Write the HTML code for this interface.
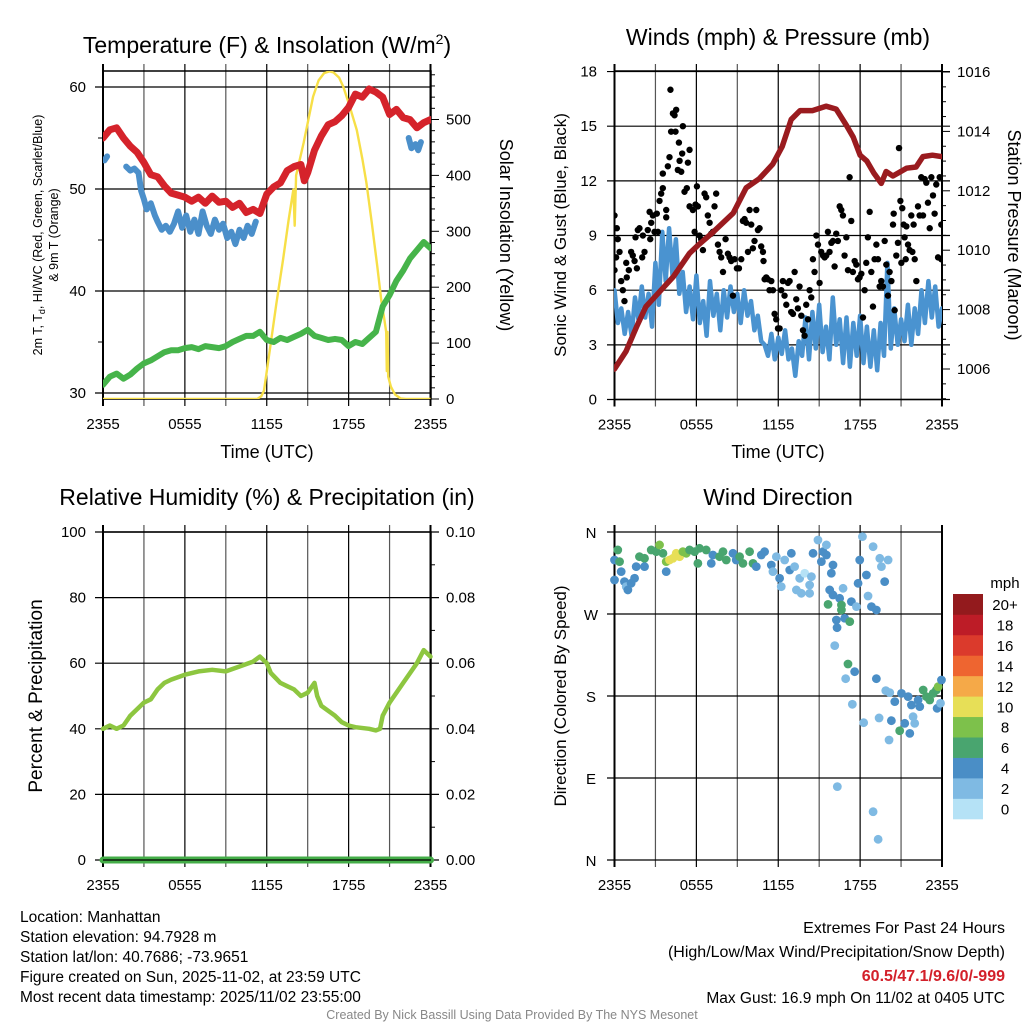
<!DOCTYPE html>
<html><head><meta charset="utf-8">
<style>
html,body{margin:0;padding:0;background:#fff;}
svg{display:block;font-family:"Liberation Sans",Arial,sans-serif;}
.tk{font-size:15px;fill:#000;}
.ttl{font-size:23px;fill:#000;}
.lab{font-size:18px;fill:#000;}
.ft{font-size:15.5px;fill:#000;}
</style></head>
<body>
<svg id="fig" width="1024" height="1024" viewBox="0 0 1024 1024">
<defs>
<clipPath id="c1"><rect x="103" y="71" width="328" height="328"/></clipPath>
<clipPath id="c2"><rect x="614" y="71" width="328" height="329"/></clipPath>
<clipPath id="c3"><rect x="96" y="525" width="344" height="345"/></clipPath>
<clipPath id="c4"><rect x="608" y="525" width="342" height="342"/></clipPath>
</defs>
<g id="grid"></g>
<g id="marks"></g>
<g id="axes"></g>

<text class="ttl" x="267" y="53" text-anchor="middle">Temperature (F) &amp; Insolation (W/m<tspan dy="-9" font-size="14">2</tspan><tspan dy="9">)</tspan></text>
<text class="ttl" x="778" y="45" text-anchor="middle">Winds (mph) &amp; Pressure (mb)</text>
<text class="ttl" x="267" y="505" text-anchor="middle">Relative Humidity (%) &amp; Precipitation (in)</text>
<text class="ttl" x="778" y="505" text-anchor="middle">Wind Direction</text>

<text x="0" y="0" font-size="12.5" text-anchor="middle" transform="translate(42,235) rotate(-90)">2m T, T<tspan dy="3" font-size="9">d</tspan><tspan dy="-3">, HI/WC (Red, Green, Scarlet/Blue)</tspan></text>
<text x="0" y="0" font-size="12.5" text-anchor="middle" transform="translate(58,235) rotate(-90)">&amp; 9m T (Orange)</text>
<text class="lab" x="0" y="0" text-anchor="middle" transform="translate(500,235) rotate(90)">Solar Insolation (Yellow)</text>
<text class="lab" x="267" y="458" text-anchor="middle">Time (UTC)</text>
<text class="lab" x="778" y="458" text-anchor="middle">Time (UTC)</text>
<text x="0" y="0" font-size="17" text-anchor="middle" transform="translate(566,235) rotate(-90)">Sonic Wind &amp; Gust (Blue, Black)</text>
<text class="lab" x="0" y="0" text-anchor="middle" transform="translate(1008,235) rotate(90)">Station Pressure (Maroon)</text>
<text x="0" y="0" font-size="19" text-anchor="middle" transform="translate(42,696) rotate(-90)">Percent &amp; Precipitation</text>
<text x="0" y="0" font-size="17" text-anchor="middle" transform="translate(566,696) rotate(-90)">Direction (Colored By Speed)</text>

<text class="tk" x="1005" y="588" text-anchor="middle">mph</text>

<g>
<text class="ft" x="20" y="922">Location: Manhattan</text>
<text class="ft" x="20" y="942">Station elevation: 94.7928 m</text>
<text class="ft" x="20" y="962">Station lat/lon: 40.7686; -73.9651</text>
<text class="ft" x="20" y="982">Figure created on Sun, 2025-11-02, at 23:59 UTC</text>
<text class="ft" x="20" y="1002">Most recent data timestamp: 2025/11/02 23:55:00</text>
</g>
<g>
<text x="1005" y="933" font-size="16" text-anchor="end">Extremes For Past 24 Hours</text>
<text x="1005" y="957" font-size="16" text-anchor="end">(High/Low/Max Wind/Precipitation/Snow Depth)</text>
<text x="1005" y="981" font-size="16" font-weight="bold" fill="#d3202a" text-anchor="end">60.5/47.1/9.6/0/-999</text>
<text x="1005" y="1003" font-size="15.5" text-anchor="end">Max Gust: 16.9 mph On 11/02 at 0405 UTC</text>
</g>
<text x="512" y="1019" font-size="12.5" fill="#888" text-anchor="middle">Created By Nick Bassill Using Data Provided By The NYS Mesonet</text>
</svg>

<script>
// ---------- DATA ----------
const timeTickLabels = ["2355","0555","1155","1755","2355"];
const tempTicks = [30,40,50,60];
const solarTicks = [0,100,200,300,400,500];
const windTicks = [0,3,6,9,12,15,18];
const pressTicks = [1006,1008,1010,1012,1014,1016];
const rhTicks = [0,20,40,60,80,100];
const precipTickLabels = ["0.00","0.02","0.04","0.06","0.08","0.10"];
const dirTickLabels = ["N","E","S","W","N"];
const speedBins = ["0","2","4","6","8","10","12","14","16","18","20+"];

const tHours = [0,0.5,1,1.5,2,2.5,3,3.5,4,4.5,5,5.5,6,6.5,7,7.5,8,8.5,9,9.5,10,10.5,11,11.5,12,12.5,13,13.5,14,14.5,14.75,15,15.5,16,16.5,17,17.5,18,18.5,19,19.5,20,20.5,21,21.5,22,22.5,23,23.5,24];
const tVals = [55.0,55.8,56.0,55.0,54.2,53.6,52.6,51.4,51.2,50.3,49.6,49.4,49.2,48.8,49.2,48.6,49.3,48.7,48.8,48.2,48.6,47.7,48.0,47.6,49.5,50.2,50.6,51.8,52.2,52.4,50.8,51.6,53.8,55.2,56.3,56.6,57.2,58.0,59.3,59.0,59.8,59.5,59.0,57.3,57.8,57.0,56.8,56.0,56.5,56.8];
const hiHours = [0.1,0.3,null,1.7,2.0,2.3,2.6,2.8,3.0,3.2,3.5,3.8,4.0,4.3,4.6,4.9,5.2,5.5,5.8,6.1,6.4,6.7,7.0,7.3,7.6,7.9,8.2,8.5,8.8,9.1,9.4,9.7,10.0,10.3,10.6,10.9,11.2,null,14.7,null,16.7,null,22.4,22.6,22.9,23.1,23.3,null,23.9];
const hiVals = [52.8,53.2,null,52.2,51.8,52.0,51.6,49.8,49.0,48.0,48.6,47.4,46.8,46.0,46.4,45.8,46.6,47.8,46.2,47.4,45.8,47.0,45.6,47.8,46.4,45.6,47.0,46.0,46.6,45.2,45.8,44.6,46.0,45.2,46.4,45.6,46.8,null,49.5,null,55.0,null,55.0,54.0,54.4,53.8,54.6,null,55.6];
const tdHours = [0,0.5,1,1.5,2,2.5,3,3.5,4,4.5,5,5.5,6,6.5,7,7.5,8,8.5,9,9.5,10,10.5,11,11.5,12,12.5,13,13.5,14,14.5,15,15.5,16,16.5,17,17.5,18,18.5,19,19.5,20,20.5,21,21.5,22,22.5,23,23.5,24];
const tdVals = [30.8,31.6,31.9,31.4,31.8,32.4,32.9,33.2,33.6,34.0,34.2,34.2,34.4,34.5,34.3,34.6,34.5,34.4,34.6,35.0,35.3,35.6,35.6,36.0,35.2,35.0,35.4,35.2,35.5,35.8,36.2,35.6,35.4,35.2,35.3,35.2,34.6,35.0,34.8,35.4,36.0,38.5,39.6,41.0,42.0,43.2,44.0,44.8,44.2];
const solHours = [0,11.3,11.6,11.8,12.0,12.3,12.7,13.2,13.6,13.95,14.05,14.15,14.7,15.4,15.8,16.2,16.6,16.9,17.3,17.6,18.0,18.6,19.0,19.3,19.7,20.1,20.4,20.6,20.75,20.8,20.85,20.9,21.1,21.4,21.8,22.2,24];
const solVals = [0,0,5,15,50,100,170,250,320,375,310,400,458,541,570,583,586,584,575,559,530,481,430,387,315,237,175,145,120,50,120,40,22,8,1,0,0];

const windVals = [6.0,4.2,5.0,3.6,4.8,3.5,5.6,4.4,6.2,4.5,5.8,4.0,7.5,5.2,9.2,6.5,9.4,6.8,8.8,5.8,7.0,4.8,6.2,4.4,6.8,4.2,5.4,3.5,6.5,4.6,5.8,3.8,6.0,4.5,6.2,4.8,5.8,4.2,6.0,4.6,5.4,3.8,4.6,3.2,3.0,2.4,3.6,2.2,3.4,2.5,3.8,2.2,2.8,1.3,3.2,2.4,4.5,2.2,4.8,2.8,5.2,2.6,4.0,2.2,5.6,3.0,4.4,2.0,4.5,1.8,4.2,2.4,4.6,2.0,4.0,1.8,3.8,1.6,4.2,2.4,7.5,2.8,5.0,3.0,4.4,3.2,5.2,3.0,5.0,3.6,6.0,4.2,6.5,4.5,6.2,4.0,5.0];
const windStepHours = 0.25;
const gustHours = [0,0,0.17,0.24,0.12,0.37,0.49,0.61,0.73,0.86,0.9,1.05,1.22,1.34,1.47,1.54,1.71,1.83,1.64,2.03,2.2,2.08,2.44,2.57,2.69,2.81,2.62,2.93,3.1,3.18,3.3,3.42,3.54,3.54,3.79,3.79,3.91,4.03,4.15,4.28,4.4,4.52,4.47,4.1,4.64,4.77,4.72,4.89,4.96,5.01,5.13,5.3,5.38,5.5,5.5,5.74,5.87,5.94,6.04,6.11,6.23,6.35,6.48,6.6,6.72,6.84,6.97,7.09,7.21,7.33,7.45,7.58,7.7,7.82,7.95,8.14,8.31,8.43,8.55,8.68,8.8,8.97,9.12,9.29,9.41,9.53,9.65,9.78,9.9,10.02,10.14,10.26,10.39,10.51,10.63,10.75,10.88,10.92,11.0,11.12,11.24,11.36,11.49,11.61,11.73,11.85,11.98,12.1,12.22,12.34,12.46,12.59,12.71,12.83,12.95,13.08,13.2,13.32,13.44,13.56,13.69,13.81,13.93,14.05,14.18,14.3,14.42,14.54,14.66,14.79,14.91,15.03,15.15,15.28,15.4,15.52,15.64,15.76,15.89,16.01,16.13,16.25,16.37,16.5,16.62,16.74,16.86,16.99,17.11,17.23,17.35,17.47,17.6,17.72,17.84,17.96,18.09,18.21,18.33,18.45,18.57,18.7,18.82,18.94,19.06,19.19,19.31,19.43,19.55,19.67,19.8,19.92,20.04,20.16,20.29,20.41,20.46,20.53,20.65,20.77,20.85,20.95,21.02,21.09,21.19,21.26,21.34,21.39,21.51,21.63,21.75,21.83,21.92,22.0,22.12,22.24,22.36,22.48,22.61,22.73,22.85,22.97,23.1,23.22,23.34,23.46,23.58,23.71,23.83,23.95,23.95];
const gustVals = [10.1,7.1,9.4,8.8,7.8,8.1,6.5,6.0,5.4,7.5,6.7,7.1,8.1,7.9,7.6,8.9,9.3,9.4,7.2,7.8,8.1,9.0,9.3,10.3,9.7,10.1,8.8,9.2,10.2,9.2,10.9,11.3,11.6,12.4,10.4,10.0,12.8,13.3,14.7,15.7,15.6,15.9,14.7,17.0,12.6,13.1,14.1,12.5,13.5,15.0,11.4,11.6,13.0,13.7,10.6,10.4,9.2,10.7,11.7,10.6,9.0,8.8,8.2,11.3,11.1,10.1,9.7,9.1,9.2,10.6,11.3,8.5,8.1,7.8,7.0,8.8,8.0,7.8,7.6,5.7,7.7,7.2,7.2,7.7,9.8,9.9,9.7,8.1,10.4,9.6,8.3,8.7,10.4,9.3,9.4,8.4,8.1,7.6,6.6,6.7,6.6,6.0,6.5,6.0,4.7,4.4,3.9,3.9,6.0,6.5,5.7,5.2,6.4,6.5,4.8,4.7,7.0,5.5,5.0,6.2,4.6,3.8,3.5,5.2,4.4,6.0,5.6,7.7,7.0,9.0,8.5,6.4,8.1,7.9,7.8,7.9,9.2,8.1,8.6,8.7,7.3,9.1,8.7,10.6,10.4,10.1,7.9,8.9,7.1,12.2,9.8,7.0,7.6,7.4,6.6,6.7,6.9,4.5,6.0,7.5,8.9,10.3,7.0,5.1,7.7,8.5,7.7,6.2,6.5,6.2,8.7,7.4,5.7,7.0,6.5,9.6,10.2,4.9,7.9,8.6,13.8,10.9,7.5,10.5,9.6,8.9,7.7,9.5,8.5,8.2,10.1,8.1,9.6,7.7,6.5,10.6,10.1,12.2,10.1,12.1,11.9,10.8,9.4,12.2,11.2,10.2,11.8,7.8,12.2,9.6,7.7];
const pressHours = [0,0.85,1.6,2.3,3.3,4.3,5.5,6.2,7.2,8.7,9.65,10.6,11.6,12.3,12.95,13.6,14.5,15.5,16.25,17.0,17.5,18.0,18.5,19.0,19.55,19.9,20.4,21.4,22.1,22.6,23.3,24];
const pressVals = [1006.0,1006.6,1007.4,1008.1,1008.6,1009.1,1009.9,1010.2,1010.6,1011.25,1012.1,1012.4,1012.9,1013.5,1014.4,1014.7,1014.7,1014.85,1014.75,1014.2,1013.8,1013.2,1013.0,1012.6,1012.25,1012.65,1012.5,1012.76,1012.8,1013.15,1013.2,1013.15];

const rhHours = [0,0.5,1,1.5,2,3,3.5,4,4.5,5,6,7,8,9,10,11,11.5,12,12.3,13,13.5,14,14.5,15,15.5,15.7,16,17,17.5,18,18.5,19.5,20,20.3,20.5,21,22,23,23.5,24];
const rhVals = [40,41,40,41,44,48,49,52,54,55,56.5,57.5,58,57.5,59,60.5,62,60,57,54,53,52,50,51,54,50,47,44,42,41,40.5,40,39.5,40,44,48,54,60,64,62];
const precipHours = [0,24];
const precipVals = [0,0];

const dirHours = [0,0,0.24,0.37,0.49,0.73,0.86,0.98,1.22,1.47,1.59,1.83,2.2,2.2,2.69,3.06,3.3,3.55,3.79,3.79,4.03,4.28,4.52,4.77,5.01,5.26,5.5,5.87,6.11,6.23,6.72,7.09,7.21,7.7,7.95,8.19,8.68,8.92,9.17,9.41,9.9,10.15,10.39,10.76,11,11.49,11.61,11.86,12.1,12.22,12.47,12.84,12.96,13.2,13.33,13.57,13.69,13.94,14.3,14.3,14.43,14.55,14.91,15.16,15.28,15.53,15.53,15.89,16.01,15.77,16.01,15.65,16.5,16.75,16.63,16.63,16.26,16.31,16.87,17.24,17.36,17.73,17.85,17.97,18.17,18.46,18.58,18.83,18.95,19.19,19.44,19.56,19.8,20.05,16.14,17.11,17.6,16.94,19.19,17.43,18.26,19.39,19.88,20.17,20.54,20.29,20.9,21.03,21.27,21.64,21.52,21.76,21.88,22,22.25,22.37,22.62,22.86,23.1,23.35,23.59,23.72,23.96,23.64,23.89,20.12,16.33,18.95,19.32];
const dirVals = [329.3,307.3,340.3,327.5,316.5,305.5,300,296.4,303.7,309.2,322,332.9,331.1,322,340.3,338.4,345.8,336.6,327.5,316.5,329.3,331.1,336.6,332.9,338.4,336.6,340.3,338.4,325.6,342.1,340.3,325.6,334.8,332.9,338.4,329.3,336.6,329.3,332.9,325.6,338.4,325.6,322,334.8,338.4,323.8,316.5,332.9,309.2,300,329.3,318.3,336.6,322,296.4,309.2,292.7,314.7,301.8,292.7,311,336.6,351.2,327.5,338.4,345.8,334.8,314.7,323.8,296.4,290.9,280.6,287.2,298.2,279.9,274.4,263.4,255,265.3,261.6,283.6,278.1,303.7,329.3,354.9,312.8,289.8,278.1,343.9,274.4,331.1,322,305.5,329.3,235.3,215.1,206.7,199,199,170.9,150.7,155.9,185.9,183.7,173.8,152.9,141.9,182.9,150,139,179.3,170.1,157.3,150,175.6,168.3,186.6,179.3,175.6,182.9,186.6,190.2,197.6,166.5,172,131.7,80.5,53,22.7];
const dirSpeeds = [4,4,6,6,4,4,2,4,4,4,4,6,6,4,6,6,8,6,8,4,10,10,10,10,8,8,6,6,6,6,6,4,4,6,6,6,4,4,6,6,6,6,4,4,4,4,2,2,4,2,2,4,4,2,2,2,2,0,2,2,2,4,2,4,4,2,4,4,4,4,4,6,4,2,6,6,4,4,4,6,4,2,4,4,2,4,2,4,2,4,2,2,4,2,2,6,4,2,4,2,2,2,2,2,4,4,6,4,4,4,4,4,2,2,4,4,6,6,6,6,6,8,4,4,2,2,2,2,2];

// ---------- helpers ----------
const NS = "http://www.w3.org/2000/svg";
const gridG = document.getElementById('grid');
const marksG = document.getElementById('marks');
const axesG = document.getElementById('axes');
function mk(tag, attrs, parent){
  const e = document.createElementNS(NS, tag);
  for (const k in attrs) e.setAttribute(k, attrs[k]);
  parent.appendChild(e);
  return e;
}
const xL = h => 103 + h * 327.5 / 24;
const xR = h => 614.5 + h * 327.5 / 24;
const yT = v => 393 - (v - 30) * 10.2;
const yS = v => 399 - v * 0.559;
const yW = v => 399.5 - v * 18.22;
const yP = p => 369 - (p - 1006) * 29.7;
const yH = v => 860 - v * 3.28;
const yD = d => 860 - d * 0.9111;
const speedColors = ["#b5e2f6","#7fbae3","#4a8ec6","#49a56f","#7dc14b","#e7df57","#f5a948","#ee6530","#db3a2c","#bd1c27","#931a1d"];

function pathFrom(hs, vs, xf, yf){
  let d = "", pen = false;
  for (let i = 0; i < hs.length; i++){
    if (hs[i] === null || vs[i] === null){ pen = false; continue; }
    d += (pen ? "L" : "M") + xf(hs[i]).toFixed(1) + "," + yf(vs[i]).toFixed(1);
    pen = true;
  }
  return d;
}
function line(x1,y1,x2,y2,col,w,parent){
  return mk('line',{x1:x1,y1:y1,x2:x2,y2:y2,stroke:col,'stroke-width':w},parent);
}

const panels = [
  {xf:xL, top:71, bot:399, l:103, r:431},
  {xf:xR, top:71, bot:399.5, l:614.5, r:942},
  {xf:xL, top:532, bot:860, l:103, r:431},
  {xf:xR, top:532, bot:860, l:614.5, r:942}
];
panels.forEach(function(p, pi){
  for (let h = 0; h <= 24; h += 3){
    const gl = line(p.xf(h), p.top - 7, p.xf(h), p.bot + 7, (h % 6 === 3) ? "#555" : "#000", (h===0||h===24)?2:1.2, gridG);
    
    
  }
  for (let i = 0; i < 5; i++){
    const tx = mk('text',{x:p.xf(i*6), y:p.bot+30, 'text-anchor':'middle', class:'tk'}, axesG);
    tx.textContent = timeTickLabels[i];
    
    
  }
});

(function(){
  const box = mk('rect',{x:103,y:71,width:328,height:328,fill:'none',stroke:'#000','stroke-width':1.5}, gridG);
  
  
  tempTicks.forEach(function(v){
    const g = line(95, yT(v), 431, yT(v), '#000', 1.2, gridG);
    
    
    const t = mk('text',{x:86, y:yT(v)+5, 'text-anchor':'end', class:'tk'}, axesG);
    t.textContent = v;
    
    
  });
  [35,45,55].forEach(function(v){
    const m = line(98, yT(v), 103, yT(v), '#000', 1, gridG);
    
    
  });
  for (let v = 0; v <= 580; v += 20){
    const major = v % 100 === 0;
    const m = line(431, yS(v), 431 + (major ? 8 : 4), yS(v), '#000', 1, gridG);
    
    
  }
  solarTicks.forEach(function(v){
    const t = mk('text',{x:446, y:yS(v)+5, class:'tk'}, axesG);
    t.textContent = v;
    
    
  });
})();

(function(){
  const box = mk('rect',{x:614.5,y:71,width:327.5,height:328.5,fill:'none',stroke:'#000','stroke-width':1.5}, gridG);
  
  
  windTicks.forEach(function(v){
    const g = line(607, yW(v), 950, yW(v), '#000', 1.2, gridG);
    
    
    const t = mk('text',{x:597, y:yW(v)+5, 'text-anchor':'end', class:'tk'}, axesG);
    t.textContent = v;
    
    
  });
  for (let p = 1005; p <= 1016; p += 0.5){
    const major = (p % 2 === 0);
    const m = line(942, yP(p), 942 + (major ? 8 : 4), yP(p), '#000', 1, gridG);
    
    
  }
  pressTicks.forEach(function(p){
    const t = mk('text',{x:957, y:yP(p)+5, class:'tk'}, axesG);
    t.textContent = p;
    
    
  });
})();

(function(){
  const box = mk('rect',{x:103,y:532,width:328,height:328,fill:'none',stroke:'#000','stroke-width':1.5}, gridG);
  
  
  rhTicks.forEach(function(v, i){
    const g = line(95, yH(v), 439, yH(v), '#000', 1.2, gridG);
    
    
    const t = mk('text',{x:86, y:yH(v)+5, 'text-anchor':'end', class:'tk'}, axesG);
    t.textContent = v;
    
    
    const t2 = mk('text',{x:446, y:yH(v)+5, class:'tk'}, axesG);
    t2.textContent = precipTickLabels[i];
    
    
  });
  for (let v = 10; v < 100; v += 20){
    const m = line(431, yH(v), 435, yH(v), '#000', 1, gridG);
    
    
  }
})();

(function(){
  for (let i = 0; i < 5; i++){
    const d = i * 90;
    const g = line(607, yD(d), 942, yD(d), '#000', 1.2, gridG);
    
    
    const t = mk('text',{x:591, y:yD(d)+6, 'text-anchor':'middle', class:'tk'}, axesG);
    t.textContent = dirTickLabels[i];
    
    
  }
  const axl = line(614.5, 532, 614.5, 867, '#000', 2, gridG);
  
  
  for (let i = 0; i < speedBins.length; i++){
    const top = 594 + (speedBins.length - 1 - i) * 20.45;
    const r = mk('rect',{x:953, y:top, width:30, height:20.8, fill:speedColors[i]}, axesG);
    
    
    const t = mk('text',{x:1005, y:top+16, 'text-anchor':'middle', class:'tk'}, axesG);
    t.textContent = speedBins[i];
    
    
  }
})();

// ---------- marks ----------
const g1 = mk('g',{'clip-path':'url(#c1)'}, marksG);


const sol = mk('path',{d:pathFrom(solHours, solVals, xL, yS), fill:'none', stroke:'#f7df47','stroke-width':2.4,'stroke-linejoin':'round'}, g1);


const td = mk('path',{d:pathFrom(tdHours, tdVals, xL, yT), fill:'none', stroke:'#46b44a','stroke-width':6,'stroke-linejoin':'round','stroke-linecap':'round'}, g1);


const hi = mk('path',{d:pathFrom(hiHours, hiVals, xL, yT), fill:'none', stroke:'#4b8fca','stroke-width':6,'stroke-linejoin':'round','stroke-linecap':'round'}, g1);


const tt = mk('path',{d:pathFrom(tHours, tVals, xL, yT), fill:'none', stroke:'#d5232b','stroke-width':7,'stroke-linejoin':'round','stroke-linecap':'round'}, g1);



const g2 = mk('g',{'clip-path':'url(#c2)'}, marksG);


const windHours = windVals.map((v, i) => i * windStepHours);
const wl = mk('path',{d:pathFrom(windHours, windVals, xR, yW), fill:'none', stroke:'#4a93d0','stroke-width':4.5,'stroke-linejoin':'round','stroke-linecap':'round'}, g2);


for (let i = 0; i < gustHours.length; i++){
  const c = mk('circle',{cx:xR(gustHours[i]), cy:yW(gustVals[i]), r:3.2, fill:'#000'}, g2);
  
  
}
const pl = mk('path',{d:pathFrom(pressHours, pressVals, xR, yP), fill:'none', stroke:'#9a1b1f','stroke-width':5.5,'stroke-linejoin':'round','stroke-linecap':'round'}, g2);



const g3 = mk('g',{'clip-path':'url(#c3)'}, marksG);


const pr = mk('path',{d:pathFrom(precipHours, precipVals.map(v => v * 1000), xL, yH), fill:'none', stroke:'#44ad48','stroke-width':7,'stroke-linecap':'round'}, g3);


const rh = mk('path',{d:pathFrom(rhHours, rhVals, xL, yH), fill:'none', stroke:'#8dc640','stroke-width':4.5,'stroke-linejoin':'round','stroke-linecap':'round'}, g3);


const zl = line(103, 860, 431, 860, '#000', 1.2, g3);



const g4 = mk('g',{'clip-path':'url(#c4)'}, marksG);


for (let i = 0; i < dirHours.length; i++){
  const c = mk('circle',{cx:xR(dirHours[i]), cy:yD(dirVals[i]), r:4.4, fill:speedColors[Math.min(10, Math.floor(dirSpeeds[i] / 2))]}, g4);
  
  
}
</script>
</body></html>
